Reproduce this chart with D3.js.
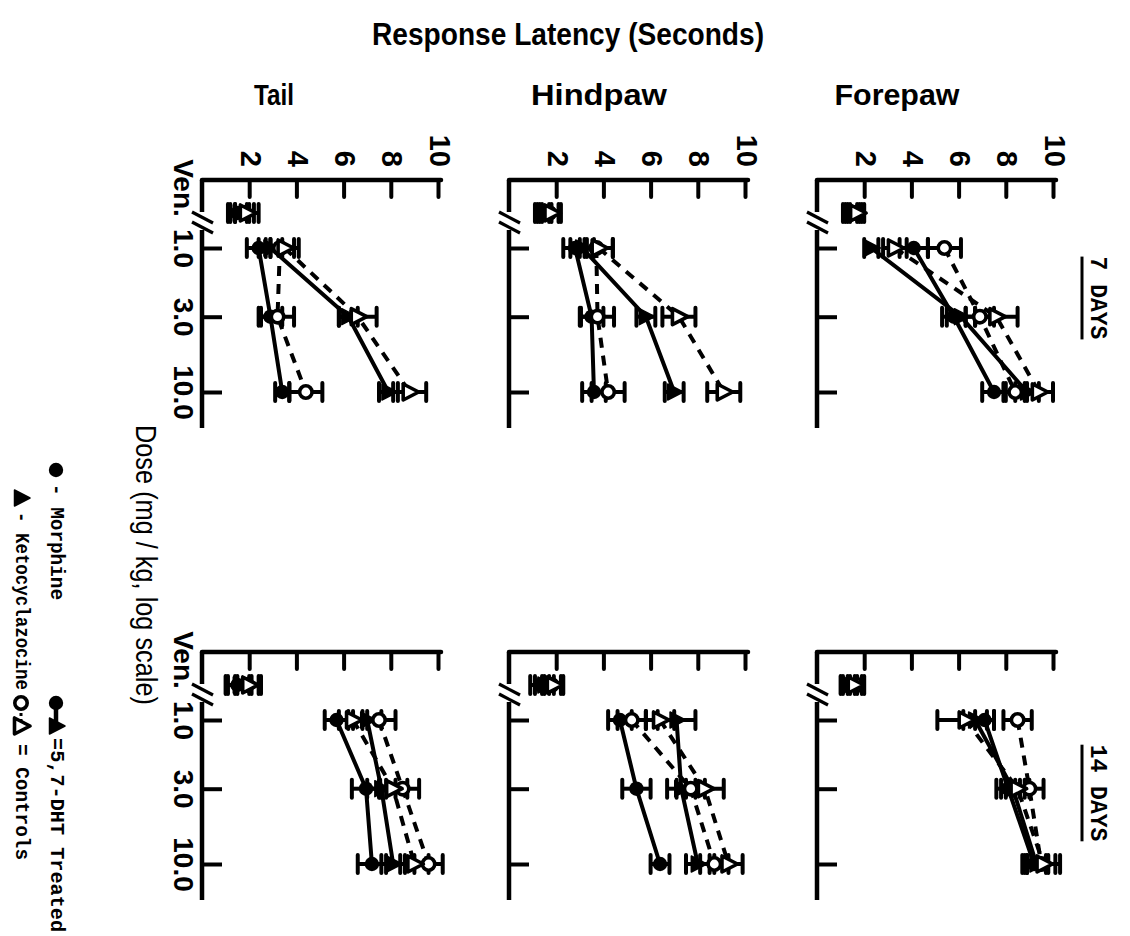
<!DOCTYPE html>
<html><head><meta charset="utf-8">
<script src="https://cdn.jsdelivr.net/npm/d3@7"></script>
<style>html,body{margin:0;padding:0;background:#fff;} svg{display:block;}</style>
</head><body>
<svg id="chart" width="1130" height="936"></svg>
<script>
// ---------------- DATA ----------------
const doseLabels = ["Ven.", "1.0", "3.0", "10.0"];
const doseValues = [1, 3, 10];
const latencyTicks = [2, 4, 6, 8, 10];
const regions = ["Tail", "Hindpaw", "Forepaw"];
const periods = ["7 DAYS", "14 DAYS"];
const seriesNames = ["Morphine, 5,7-DHT", "Ketocyclazocine, 5,7-DHT", "Morphine, Control", "Ketocyclazocine, Control"];

// mean response latency (s) at [Veh, 1.0, 3.0, 10.0] and SEM
const tail7MorphDHT = [1.5, 2.4, 2.9, 3.4],  tail7MorphDHTSem = [0.4, 0.5, 0.5, 0.3];
const tail7KetoDHT  = [1.6, 2.9, 6.2, 7.9],  tail7KetoDHTSem  = [0.4, 0.5, 0.4, 0.4];
const tail7MorphCtl = [1.8, 3.3, 3.2, 4.4],  tail7MorphCtlSem = [0.4, 0.6, 0.7, 0.7];
const tail7KetoCtl  = [1.9, 3.5, 6.6, 8.8],  tail7KetoCtlSem  = [0.5, 0.6, 0.8, 0.7];

const hind7MorphDHT = [1.4, 2.8, 3.5, 3.6],  hind7MorphDHTSem = [0.3, 0.5, 0.5, 0.5];
const hind7KetoDHT  = [1.5, 3.1, 5.8, 7.0],  hind7KetoDHTSem  = [0.3, 0.5, 0.4, 0.4];
const hind7MorphCtl = [1.7, 3.7, 3.75, 4.2], hind7MorphCtlSem = [0.4, 0.7, 0.7, 0.7];
const hind7KetoCtl  = [1.8, 3.8, 7.2, 9.1],  hind7KetoCtlSem  = [0.4, 0.6, 0.7, 0.7];

const fore7MorphDHT = [1.4, 4.1, 5.8, 7.5],  fore7MorphDHTSem = [0.3, 0.6, 0.5, 0.5];
const fore7KetoDHT  = [1.5, 2.3, 6.1, 8.9],  fore7KetoDHTSem  = [0.3, 0.3, 0.6, 0.5];
const fore7MorphCtl = [1.6, 5.4, 6.9, 8.4],  fore7MorphCtlSem = [0.3, 0.7, 0.6, 0.5];
const fore7KetoCtl  = [1.7, 3.3, 7.6, 9.4],  fore7KetoCtlSem  = [0.3, 0.5, 0.9, 0.6];

const tail14MorphDHT = [1.5, 5.7, 6.95, 7.2], tail14MorphDHTSem = [0.5, 0.5, 0.6, 0.6];
const tail14KetoDHT  = [1.6, 7.0, 7.6, 8.1],  tail14KetoDHTSem  = [0.5, 0.6, 0.6, 0.5];
const tail14MorphCtl = [1.9, 7.5, 8.5, 9.6],  tail14MorphCtlSem = [0.5, 0.7, 0.7, 0.6];
const tail14KetoCtl  = [2.0, 6.4, 8.1, 9.0],  tail14KetoCtlSem  = [0.5, 0.6, 0.6, 0.6];

const hind14MorphDHT = [1.3, 4.7, 5.4, 6.4],  hind14MorphDHTSem = [0.4, 0.5, 0.6, 0.4];
const hind14KetoDHT  = [1.5, 7.1, 7.3, 8.0],  hind14KetoDHTSem  = [0.4, 0.8, 0.6, 0.5];
const hind14MorphCtl = [1.8, 5.2, 7.7, 8.7],  hind14MorphCtlSem = [0.4, 0.6, 0.6, 0.6];
const hind14KetoCtl  = [1.9, 6.4, 8.3, 9.3],  hind14KetoCtlSem  = [0.4, 0.6, 0.8, 0.6];

const fore14MorphDHT = [1.3, 7.1, 8.1, 9.2],  fore14MorphDHTSem = [0.3, 0.4, 0.5, 0.5];
const fore14KetoDHT  = [1.4, 6.7, 8.3, 9.3],  fore14KetoDHTSem  = [0.3, 0.5, 0.5, 0.5];
const fore14MorphCtl = [1.7, 8.5, 9.0, 9.5],  fore14MorphCtlSem = [0.3, 0.6, 0.6, 0.6];
const fore14KetoCtl  = [1.6, 6.3, 8.5, 9.6],  fore14KetoCtlSem  = [0.3, 1.2, 0.5, 0.7];

const panels = [
  {region: "Tail", row: 0, series: [[tail7MorphDHT, tail7MorphDHTSem], [tail7KetoDHT, tail7KetoDHTSem], [tail7MorphCtl, tail7MorphCtlSem], [tail7KetoCtl, tail7KetoCtlSem]]},
  {region: "Hindpaw", row: 0, series: [[hind7MorphDHT, hind7MorphDHTSem], [hind7KetoDHT, hind7KetoDHTSem], [hind7MorphCtl, hind7MorphCtlSem], [hind7KetoCtl, hind7KetoCtlSem]]},
  {region: "Forepaw", row: 0, series: [[fore7MorphDHT, fore7MorphDHTSem], [fore7KetoDHT, fore7KetoDHTSem], [fore7MorphCtl, fore7MorphCtlSem], [fore7KetoCtl, fore7KetoCtlSem]]},
  {region: "Tail", row: 1, series: [[tail14MorphDHT, tail14MorphDHTSem], [tail14KetoDHT, tail14KetoDHTSem], [tail14MorphCtl, tail14MorphCtlSem], [tail14KetoCtl, tail14KetoCtlSem]]},
  {region: "Hindpaw", row: 1, series: [[hind14MorphDHT, hind14MorphDHTSem], [hind14KetoDHT, hind14KetoDHTSem], [hind14MorphCtl, hind14MorphCtlSem], [hind14KetoCtl, hind14KetoCtlSem]]},
  {region: "Forepaw", row: 1, series: [[fore14MorphDHT, fore14MorphDHTSem], [fore14KetoDHT, fore14KetoDHTSem], [fore14MorphCtl, fore14MorphCtlSem], [fore14KetoCtl, fore14KetoCtlSem]]}
];

// ---------------- LAYOUT / STYLE ----------------
const INK = "#000";
const svg = d3.select("#chart");
svg.append("rect").attr("width", 1130).attr("height", 936).attr("fill", "#fff");
const axisXPos = {Tail: 202, Hindpaw: 509, Forepaw: 817};
const axisYPos = [180, 652];
const PLOT_FONT = "'Liberation Sans', Arial, sans-serif";
const TYPE_FONT = "'Liberation Mono', 'Courier New', monospace";
const seriesStyle = [
  {shape: "circle", filled: true, dash: null},
  {shape: "tri", filled: true, dash: null},
  {shape: "circle", filled: false, dash: "10,8"},
  {shape: "tri", filled: false, dash: "10,8"}
];

function marker(g, shape, filled, cx, cy) {
  if (shape === "circle") {
    g.append("circle").attr("cx", cx).attr("cy", cy).attr("r", filled ? 7.2 : 6.2)
      .attr("fill", filled ? INK : "#fff").attr("stroke", INK).attr("stroke-width", filled ? 0 : 3.6);
  } else {
    const p = d3.path();
    p.moveTo(cx + 9, cy); p.lineTo(cx - 6.5, cy - 8); p.lineTo(cx - 6.5, cy + 8); p.closePath();
    g.append("path").attr("d", p.toString()).attr("fill", filled ? INK : "#fff")
      .attr("stroke", INK).attr("stroke-width", filled ? 1.5 : 3.6).attr("stroke-linejoin", "round");
  }
}

function drawPanel(pn) {
  const ax = axisXPos[pn.region], ay = axisYPos[pn.row];
  const x = d3.scaleLinear().domain([0, 10]).range([ax, ax + 236]);
  const y = d3.scaleLog().domain([1, 10]).range([ay + 68, ay + 212]);
  const yVeh = ay + 33;
  const g = svg.append("g");

  // latency axis (top)
  const xa = g.append("g").attr("transform", `translate(0,${ay})`)
    .call(d3.axisTop(x).tickValues(latencyTicks).tickSizeInner(-17).tickSizeOuter(0));
  xa.select(".domain").remove();
  xa.attr("font-family", PLOT_FONT).attr("font-size", 29).attr("font-weight", "bold");
  xa.selectAll(".tick line").attr("stroke", INK).attr("stroke-width", 4).attr("stroke-linecap", "round");
  if (pn.row === 0) {
    xa.selectAll(".tick text").attr("y", null).attr("dy", null).attr("fill", INK)
      .attr("transform", "translate(1,-13) rotate(90)")
      .attr("text-anchor", "end").attr("dominant-baseline", "central");
  } else {
    xa.selectAll(".tick text").remove();
  }
  g.append("line").attr("x1", ax).attr("x2", x(10) + 3).attr("y1", ay).attr("y2", ay)
    .attr("stroke", INK).attr("stroke-width", 4.5).attr("stroke-linecap", "round");

  // dose axis (left, log scale with break)
  const ya = g.append("g").attr("transform", `translate(${ax},0)`)
    .call(d3.axisRight(y).tickValues(doseValues).tickSize(20).tickFormat((d, i) => doseLabels[i + 1]));
  ya.select(".domain").remove();
  ya.attr("font-family", PLOT_FONT).attr("font-size", 28).attr("font-weight", "bold");
  ya.selectAll(".tick line").attr("stroke", INK).attr("stroke-width", 4);
  if (pn.region === "Tail") {
    ya.selectAll(".tick text").attr("x", null).attr("dy", null).attr("fill", INK)
      .attr("transform", "translate(-19,0) rotate(90)")
      .attr("text-anchor", "middle").attr("dominant-baseline", "central");
    g.append("text").attr("transform", `translate(${ax - 19},${ay + 8}) rotate(90)`)
      .attr("text-anchor", "middle").attr("dominant-baseline", "central")
      .attr("font-family", PLOT_FONT).attr("font-size", 28).attr("font-weight", "bold")
      .text(doseLabels[0]);
  } else {
    ya.selectAll(".tick text").remove();
  }
  const yBreak = ay + 38;
  g.append("line").attr("x1", ax).attr("x2", ax).attr("y1", ay).attr("y2", yBreak - 6)
    .attr("stroke", INK).attr("stroke-width", 4.5);
  g.append("line").attr("x1", ax).attr("x2", ax).attr("y1", yBreak + 12).attr("y2", y(10) + 36)
    .attr("stroke", INK).attr("stroke-width", 4.5);
  [0, 10].forEach(o => {
    g.append("line").attr("x1", ax - 10).attr("y1", yBreak - 6 + o).attr("x2", ax + 11).attr("y2", yBreak + 5 + o)
      .attr("stroke", INK).attr("stroke-width", 3.2);
  });

  // lines
  pn.series.forEach(([mean, sem], si) => {
    const st = seriesStyle[si];
    const pts = doseValues.map((d, i) => [x(mean[i + 1]), y(d)]);
    g.append("path").attr("d", d3.line()(pts)).attr("fill", "none").attr("stroke", INK)
      .attr("stroke-width", 4).attr("stroke-dasharray", st.dash);
  });
  // error bars
  pn.series.forEach(([mean, sem], si) => {
    mean.forEach((m, i) => {
      const cy = i === 0 ? yVeh : y(doseValues[i - 1]);
      const lo = x(m - sem[i]), hi = x(m + sem[i]);
      g.append("line").attr("x1", lo).attr("x2", hi).attr("y1", cy).attr("y2", cy).attr("stroke", INK).attr("stroke-width", 4);
      [lo, hi].forEach(cx => g.append("line").attr("x1", cx).attr("x2", cx).attr("y1", cy - 9).attr("y2", cy + 9)
        .attr("stroke", INK).attr("stroke-width", 4).attr("stroke-linecap", "round"));
    });
  });
  // markers
  pn.series.forEach(([mean, sem], si) => {
    const st = seriesStyle[si];
    mean.forEach((m, i) => {
      const cy = i === 0 ? yVeh : y(doseValues[i - 1]);
      marker(g, st.shape, st.filled, x(m), cy);
    });
  });
}
panels.forEach(drawPanel);

// ---------------- TEXT ----------------
svg.append("text").attr("x", 568).attr("y", 45).attr("text-anchor", "middle")
  .attr("font-family", PLOT_FONT).attr("font-weight", "bold").attr("font-size", 32)
  .attr("textLength", 392).attr("lengthAdjust", "spacingAndGlyphs")
  .text("Response Latency (Seconds)");
const regionLabelX = {Tail: 274, Hindpaw: 599, Forepaw: 897};
const regionLabelW = {Tail: 40, Hindpaw: 136, Forepaw: 125};
regions.forEach(r => {
  svg.append("text").attr("x", regionLabelX[r]).attr("y", 105).attr("text-anchor", "middle")
    .attr("font-family", PLOT_FONT).attr("font-weight", "bold").attr("font-size", 30)
    .attr("textLength", regionLabelW[r]).attr("lengthAdjust", "spacingAndGlyphs").text(r);
});
// period labels
const periodY = [298, 793];
periods.forEach((p, i) => {
  const t = svg.append("text").attr("transform", `translate(1097,${periodY[i]}) rotate(90)`)
    .attr("text-anchor", "middle").attr("dominant-baseline", "central")
    .attr("font-family", TYPE_FONT).attr("font-weight", "bold").attr("font-size", 23).text(p);
  const w = t.node().getComputedTextLength();
  svg.append("line").attr("x1", 1082).attr("x2", 1082).attr("y1", periodY[i] - w / 2).attr("y2", periodY[i] + w / 2)
    .attr("stroke", INK).attr("stroke-width", 3);
});
// dose title
svg.append("text").attr("transform", "translate(146,425) rotate(90)")
  .attr("dominant-baseline", "central").attr("font-family", PLOT_FONT).attr("font-size", 29)
  .attr("textLength", 280).attr("lengthAdjust", "spacingAndGlyphs")
  .text("Dose (mg / kg, log scale)");

// legend
const lg = svg.append("g");
function legText(xc, y0, txt, len) {
  lg.append("text").attr("transform", `translate(${xc},${y0}) rotate(90)`)
    .attr("dominant-baseline", "central").attr("font-family", TYPE_FONT).attr("font-weight", "bold")
    .attr("font-size", 20).attr("textLength", len).attr("lengthAdjust", "spacingAndGlyphs").text(txt);
}
marker(lg, "circle", true, 56, 470);
legText(56, 484, "- Morphine", 116);
marker(lg, "tri", true, 21, 498);
legText(21, 512, "- Ketocyclazocine", 178);
// treated
lg.append("line").attr("x1", 56).attr("x2", 56).attr("y1", 704).attr("y2", 724).attr("stroke", INK).attr("stroke-width", 4.5);
marker(lg, "circle", true, 56, 703);
marker(lg, "tri", true, 56, 726);
legText(56, 738, "=5,7-DHT Treated", 194);
lg.append("line").attr("x1", 21).attr("x2", 21).attr("y1", 707).attr("y2", 721).attr("stroke", INK)
  .attr("stroke-width", 3).attr("stroke-dasharray", "3,3");
marker(lg, "circle", false, 21, 703);
marker(lg, "tri", false, 21, 726);
legText(21, 744, "= Controls", 116);
</script>
</body></html>
